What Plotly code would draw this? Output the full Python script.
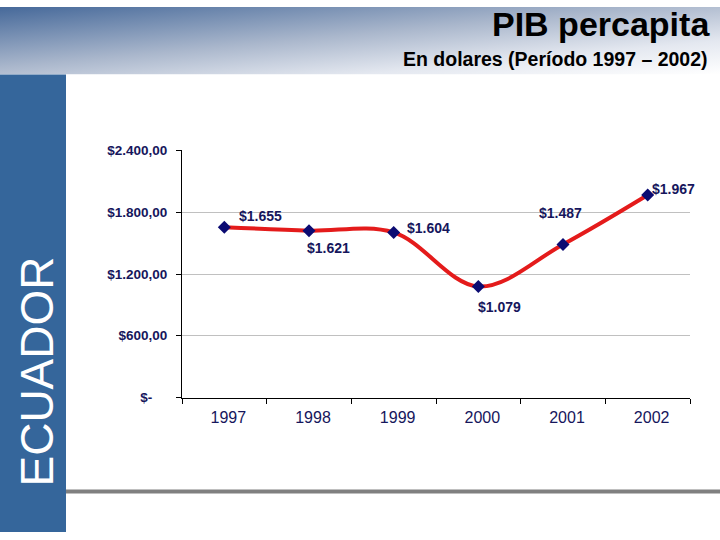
import base64
import plotly.graph_objects as go

# ---- data ----
years = ["1997", "1998", "1999", "2000", "2001", "2002"]
pib = [1655, 1621, 1604, 1079, 1487, 1967]
y_ticks = [0, 600, 1200, 1800, 2400]
y_ticktext = ["$-\u00a0\u00a0\u00a0\u00a0", "$600,00", "$1.200,00", "$1.800,00", "$2.400,00"]
title = "PIB percapita"
subtitle = "En dolares (Período 1997 – 2002)"
side_text = "ECUADOR"

# label offsets in pixels (style, not data)
label_dx = [36, 19, 35, 21, -3, 26]
label_dy = [11, -17, 4, -20, 31, 6]

W, H = 720, 540
VS = 1.0288  # vertical compensation for the capture
def px(x):
    return x / W
def py(y):
    yy = 270 + (y - 270) * VS
    return 1 - yy / H

NAVY = "#16165c"
FONT = "Liberation Sans, Arial, sans-serif"

fig = go.Figure()
fig.add_trace(go.Scatter(
    x=years, y=pib, mode="lines+markers",
    line=dict(color="#e41b1b", width=4, shape="spline", smoothing=1.0),
    marker=dict(symbol="diamond", size=10, color="#0b0b72", line=dict(width=0)),
    hoverinfo="skip",
))

annotations = []
for i, (v, dx, dy) in enumerate(zip(pib, label_dx, label_dy)):
    annotations.append(dict(
        x=i, y=v, xref="x", yref="y", text="<b>$" + f"{v:,}".replace(",", ".") + "</b>",
        showarrow=False, xshift=dx, yshift=dy * VS,
        font=dict(family=FONT, size=14, color=NAVY),
        xanchor="center", yanchor="middle",
    ))

annotations.append(dict(x=px(712), y=py(25), xref="paper", yref="paper",
                        text="<b>" + title + "</b>", showarrow=False,
                        xanchor="right", yanchor="middle",
                        font=dict(family=FONT, size=34, color="#000000")))
annotations.append(dict(x=px(710), y=py(60), xref="paper", yref="paper",
                        text="<b>" + subtitle + "</b>", showarrow=False,
                        xanchor="right", yanchor="middle",
                        font=dict(family=FONT, size=19.5, color="#000000")))
annotations.append(dict(x=px(37), y=py(372), xref="paper", yref="paper",
                        text=side_text, showarrow=False, textangle=-90,
                        xanchor="center", yanchor="middle",
                        font=dict(family=FONT, size=46, color="#ffffff")))

svg = (
    '<svg xmlns="http://www.w3.org/2000/svg" width="720" height="75" '
    'viewBox="0 0 720 75" preserveAspectRatio="none">'
    '<defs><linearGradient id="g" x1="0" y1="0" x2="1" y2="1">'
    '<stop offset="0" stop-color="#46699a"/>'
    '<stop offset="0.45" stop-color="#aab7cc"/>'
    '<stop offset="0.75" stop-color="#e4e8f0"/>'
    '<stop offset="1" stop-color="#ffffff"/>'
    '</linearGradient></defs>'
    '<rect x="0" y="0" width="720" height="75" fill="url(#g)"/></svg>'
)
src = "data:image/svg+xml;base64," + base64.b64encode(svg.encode()).decode()

header_top = 1.0
header_bot = py(75)

shapes = [
    dict(type="rect", xref="paper", yref="paper", x0=px(0), x1=px(66),
         y0=0, y1=header_bot, fillcolor="#35669b", line=dict(width=0), layer="below"),
    dict(type="rect", xref="paper", yref="paper", x0=px(66), x1=px(720),
         y0=py(494), y1=py(490), fillcolor="#808080", line=dict(width=0), layer="below"),
]

fig.update_layout(
    width=W, height=H, autosize=False,
    margin=dict(l=0, r=0, t=0, b=0),
    paper_bgcolor="#ffffff", plot_bgcolor="#ffffff",
    showlegend=False,
    images=[dict(source=src, xref="paper", yref="paper", x=0, y=header_top,
                 sizex=1, sizey=header_top - header_bot, xanchor="left", yanchor="top",
                 sizing="stretch", layer="below")],
    shapes=shapes,
    annotations=annotations,
    xaxis=dict(
        domain=[px(182), px(690)], type="category", range=[-0.5, 5.5],
        showline=True, linecolor="#000000", linewidth=1,
        ticks="outside", ticklen=5, tickcolor="#000000", tickson="boundaries",
        showgrid=False, zeroline=False,
        tickfont=dict(family=FONT, size=16, color=NAVY),
        ticklabelstandoff=5, ticklabelshift=4,
        anchor="y", fixedrange=True,
    ),
    yaxis=dict(
        domain=[py(398), py(151)], range=[0, 2400],
        tickvals=y_ticks, ticktext=y_ticktext,
        showline=True, linecolor="#000000", linewidth=1,
        ticks="outside", ticklen=5, tickcolor="#000000",
        showgrid=True, gridcolor="#c0c0c0", gridwidth=1, zeroline=False,
        tickfont=dict(family=FONT, size=13.5, color=NAVY, weight="bold"),
        ticklabelstandoff=6, anchor="x", fixedrange=True,
    ),
)

post = (
    "var s=document.createElement('style');"
    "s.textContent='html,body{margin:0;padding:0;overflow:hidden;background:#ffffff;}"
    ".plotly-graph-div{position:fixed;left:0;top:0;}';"
    "document.head.appendChild(s);"
)

fig.write_html(
    "out.html",
    config={"displayModeBar": False, "staticPlot": True},
    post_script=post,
)
